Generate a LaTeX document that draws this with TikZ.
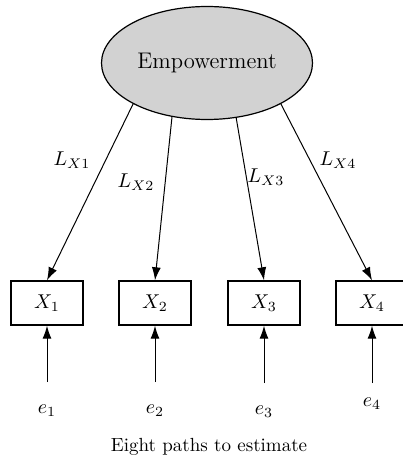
\documentclass[tikz,border=0pt]{standalone}
\usepackage{amsmath}
\usetikzlibrary{arrows.meta,positioning,shapes.geometric}

\begin{document}
\begin{tikzpicture}[x=0.5pt,y=-0.5pt,
    latent/.style={ellipse,draw,fill=gray!35,line width=0.6pt,
        minimum width=105.5pt,minimum height=56.5pt,inner sep=0pt},
    manifest/.style={rectangle,draw,line width=0.7pt,
        minimum width=36pt,minimum height=22pt,inner sep=0pt},
    loading/.style={-{Latex[length=6.5pt,width=4.5pt]},line width=0.5pt}]
    \useasboundingbox (0,0) rectangle (402,459);

    % Latent factor
    \node[latent] (emp) at (207,63) {\fontsize{11.3}{13}\selectfont Empowerment};

    % Indicators and error terms
    \foreach \i/\x/\y/\s in {1/47/411/8pt, 2/155/411/8pt, 3/264/412/8pt, 4/372/404/4pt} {
        \node[manifest] (x\i) at (\x,303) {$X_\i$};
        \node (e\i) at (\x,\y) {$e_\i$};
        \draw[loading,shorten <=\s] (e\i.north) -- (x\i.south);
    }

    % Loadings
    \draw[loading] (emp.209) -- (x1.north);
    \draw[loading] (emp.237) -- (x2.north);
    \draw[loading] (emp.298) -- (x3.north);
    \draw[loading] (emp.331) -- (x4.north);

    % Labels
    \node (lx1) at (72,160) {$L_{X1}$};
    \node (lx2) at (136,182) {$L_{X2}$};
    \node (lx3) at (266,177) {$L_{X3}$};
    \node (lx4) at (338,160) {$L_{X4}$};

    \node (cap) at (209,447) {\fontsize{9.5}{11}\selectfont Eight paths to estimate};
\end{tikzpicture}
\end{document}
